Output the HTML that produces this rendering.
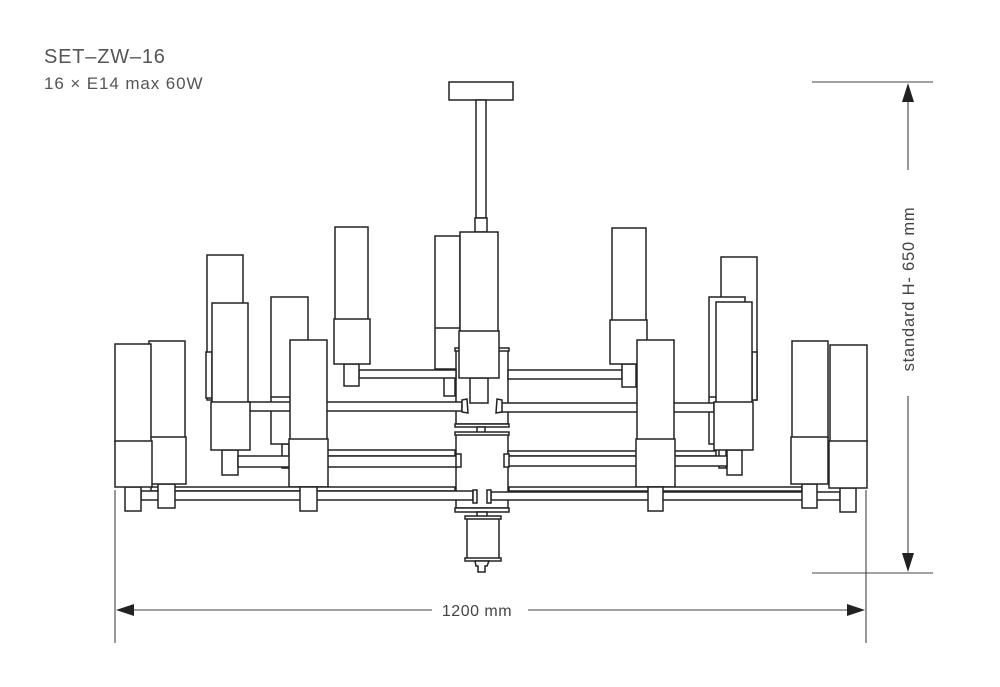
<!DOCTYPE html>
<html><head><meta charset="utf-8"><style>
html,body{margin:0;padding:0;background:#fff;}
svg{display:block;}
</style></head><body>
<svg width="1000" height="687" viewBox="0 0 1000 687" xmlns="http://www.w3.org/2000/svg">
<g font-family="'Liberation Sans', sans-serif" fill="#555">
<text x="44" y="63" font-size="20" letter-spacing="0.8">SET–ZW–16</text>
<text x="44" y="89" font-size="17" letter-spacing="0.9">16 × E14 max 60W</text>
</g>
<g fill="#fff" stroke="#222" stroke-width="1.5">
<!-- back lamps -->
<rect x="207" y="255" width="36" height="145"/>
<rect x="206" y="352" width="6" height="46"/>
<rect x="721" y="257" width="36" height="143"/>
<rect x="752" y="352" width="5" height="48"/>
<rect x="282" y="444" width="7" height="24"/>
<rect x="271" y="297" width="37" height="147"/>
<line x1="271" y1="397" x2="308" y2="397"/>
<rect x="719" y="444" width="7" height="24"/>
<rect x="709" y="297" width="36" height="147"/>
<line x1="709" y1="397" x2="745" y2="397"/>
<rect x="444" y="369" width="11" height="27"/>
<rect x="435" y="236" width="25" height="133"/>
<line x1="435" y1="328" x2="460" y2="328"/>
<!-- canopy & rod -->
<rect x="449" y="82" width="64" height="18"/>
<rect x="476" y="100" width="10" height="118"/>
<rect x="475" y="218" width="12" height="14"/>
<!-- hub upper -->
<rect x="456" y="350" width="52" height="74"/>
<rect x="455" y="348" width="54" height="3"/>
<rect x="455" y="424" width="54" height="3"/>
<rect x="477" y="427" width="8" height="7"/>
<!-- arm1 -->
<rect x="359" y="370" width="97" height="8"/>
<rect x="508" y="370" width="114" height="9"/>
<!-- lamp G -->
<rect x="344" y="364" width="15" height="22"/>
<rect x="335" y="227" width="33" height="93"/>
<rect x="334" y="319" width="36" height="45"/>
<!-- lamp G' -->
<rect x="622" y="364" width="14" height="23"/>
<rect x="612" y="228" width="34" height="93"/>
<rect x="610" y="320" width="37" height="44"/>
<!-- center lamp I -->
<rect x="470" y="378" width="18" height="25"/>
<rect x="460" y="232" width="38" height="100"/>
<rect x="459" y="331" width="40" height="47"/>
<!-- arm2 -->
<rect x="248" y="402" width="214" height="9"/>
<path d="M462 400 L467 399 L468 413 L462 412 Z"/>
<rect x="501" y="403" width="213" height="9"/>
<path d="M502 400 L497 399 L496 413 L502 412 Z"/>
<!-- lamp D -->
<rect x="222" y="450" width="16" height="25"/>
<rect x="212" y="303" width="36" height="100"/>
<rect x="211" y="402" width="39" height="48"/>
<!-- lamp E' front -->
<rect x="727" y="450" width="15" height="25"/>
<rect x="716" y="302" width="36" height="101"/>
<rect x="714" y="402" width="39" height="48"/>
<!-- hub lower -->
<rect x="456" y="434" width="52" height="74"/>
<rect x="455" y="432" width="54" height="3"/>
<!-- arms 3/4 -->
<rect x="327" y="450" width="128" height="6"/>
<rect x="238" y="456" width="219" height="11"/>
<rect x="456" y="454" width="5" height="13"/>
<rect x="508" y="451" width="208" height="5"/>
<rect x="505" y="456" width="222" height="10"/>
<rect x="504" y="454" width="5" height="13"/>
<!-- lamp F -->
<rect x="290" y="340" width="37" height="100"/>
<rect x="289" y="439" width="39" height="48"/>
<!-- lamp F' -->
<rect x="637" y="340" width="37" height="100"/>
<rect x="636" y="439" width="39" height="48"/>
<!-- arms 5/6 -->
<rect x="151" y="487" width="304" height="4"/>
<rect x="141" y="491" width="332" height="9"/>
<rect x="509" y="487" width="293" height="4"/>
<rect x="491" y="492" width="349" height="8"/>
<rect x="473" y="490" width="4" height="13"/>
<rect x="487" y="490" width="4" height="13"/>
<rect x="455" y="508" width="54" height="4"/>
<!-- feet -->
<rect x="300" y="487" width="17" height="24"/>
<rect x="648" y="487" width="15" height="24"/>
<!-- bottom finial -->
<rect x="477" y="512" width="10" height="5"/>
<rect x="467" y="517" width="32" height="43"/>
<rect x="465" y="516" width="36" height="3"/>
<rect x="465" y="558" width="36" height="3"/>
<path d="M475 561 L489 561 L487 566 L485 566 L485 572 L478 572 L478 566 L476 566 Z"/>
<!-- lamps A, B -->
<rect x="158" y="484" width="17" height="24"/>
<rect x="125" y="487" width="16" height="24"/>
<rect x="149" y="341" width="36" height="97"/>
<rect x="150" y="437" width="36" height="47"/>
<rect x="115" y="344" width="36" height="98"/>
<rect x="115" y="441" width="37" height="46"/>
<!-- lamps A', B' -->
<rect x="802" y="484" width="15" height="24"/>
<rect x="840" y="488" width="16" height="24"/>
<rect x="792" y="341" width="36" height="97"/>
<rect x="791" y="437" width="37" height="47"/>
<rect x="830" y="345" width="37" height="97"/>
<rect x="829" y="441" width="38" height="47"/>
</g>
<!-- dimensions -->
<g stroke="#444" stroke-width="1.1" fill="none">
<line x1="115" y1="490" x2="115" y2="643"/>
<line x1="866" y1="490" x2="866" y2="643"/>
<line x1="130" y1="610" x2="432" y2="610"/>
<line x1="528" y1="610" x2="851" y2="610"/>
<line x1="812" y1="82" x2="933" y2="82"/>
<line x1="812" y1="573" x2="933" y2="573"/>
<line x1="908" y1="98" x2="908" y2="170"/>
<line x1="908" y1="396" x2="908" y2="557"/>
</g>
<g fill="#222">
<path d="M116 610 L134 604 L134 616 Z"/>
<path d="M865 610 L847 604 L847 616 Z"/>
<path d="M908 83 L902 102 L914 102 Z"/>
<path d="M908 572 L902 553 L914 553 Z"/>
</g>
<g font-family="'Liberation Sans', sans-serif" fill="#444" font-size="16">
<text x="477" y="616" text-anchor="middle" font-size="16" letter-spacing="0.5">1200 mm</text>
<text x="0" y="0" text-anchor="middle" font-size="16.5" letter-spacing="0.8" transform="translate(914,289) rotate(-90)">standard H- 650 mm</text>
</g>
</svg>
</body></html>
